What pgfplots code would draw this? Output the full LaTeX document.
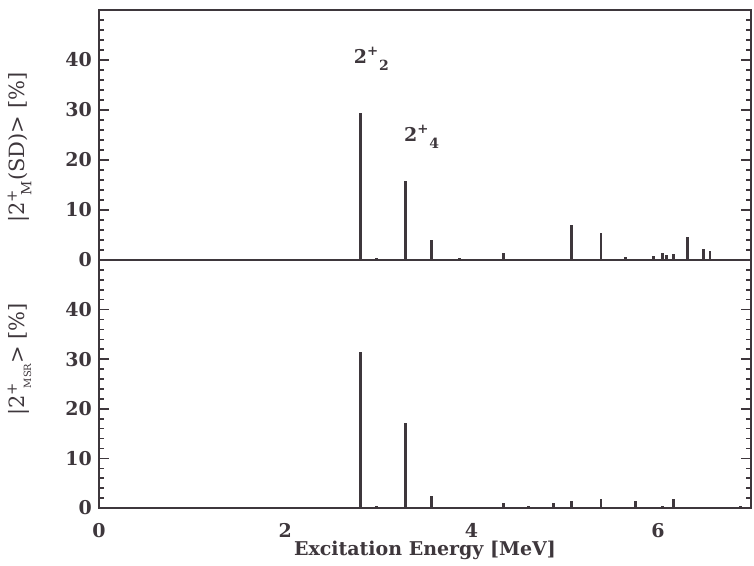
\documentclass[border=0pt]{standalone}
\usepackage{fontspec}
\setmainfont{DejaVu Serif}
\usepackage{pgfplots}
\pgfplotsset{compat=1.18}
\definecolor{ink}{RGB}{62,55,60}

\pgfplotstableread{
x y
2.81 29.4
2.98 0.3
3.29 15.8
3.57 3.9
3.87 0.3
4.34 1.3
5.07 6.9
5.39 5.4
5.65 0.5
5.95 0.8
6.05 1.4
6.09 0.9
6.17 1.2
6.32 4.5
6.49 2.1
6.56 1.8
}\topdata

\pgfplotstableread{
x y
2.81 31.5
2.98 0.4
3.29 17.1
3.57 2.5
4.34 1.0
4.61 0.4
4.88 1.0
5.07 1.4
5.39 1.9
5.76 1.5
6.05 0.4
6.17 1.9
6.49 0.3
6.56 0.3
6.89 0.5
}\botdata

\pgfplotsset{
  panel/.style={
    scale only axis,
    width=326pt,
    xmin=0, xmax=7,
    ymin=0, ymax=50,
    axis line style={ink, line width=1pt},
    every tick/.style={ink, line width=0.8pt},
    ytick={0,10,20,30,40,50},
    yticklabels={0,10,20,30,40,{}},
    minor y tick num=4,
    major tick length=5pt,
    minor tick length=2.5pt,
    ytick pos=both,
    ticklabel style={font=\fontsize{9.5}{10}\selectfont\bfseries, text=ink},
    /pgf/number format/assume math mode=true,
    ylabel style={font=\fontsize{10.5}{12}\selectfont, text=ink, anchor=center, rotate=0},
    clip=false,
  },
  bars/.style={ycomb, no marks, ink, line width=1.3pt},
}

\begin{document}
\begin{tikzpicture}
\useasboundingbox (-49.5pt,-29pt) rectangle (327.5pt,254pt);
% bottom panel
\begin{axis}[panel,
  height=124pt,
  at={(0,0)}, anchor=south west,
  xtick={0,2,4,6},
  xticklabels={0,2,4,6},
  xtick style={draw=none},
  xticklabel style={yshift=-4pt},
  xlabel={Excitation Energy [MeV]},
  xlabel style={font=\fontsize{9.5}{10}\selectfont\bfseries, text=ink, at={(axis description cs:0.5,0)}, anchor=center, yshift=-21pt},
  ylabel={|2\textsuperscript{+}\kern-0.3em\raisebox{-0.6ex}{\tiny MSR}> [\%]},
  ylabel style={at={(axis description cs:-0.122,0.6)}, rotate=0},
]
\addplot[bars] table[x=x,y=y] {\botdata};
\end{axis}
% top panel
\begin{axis}[panel,
  height=125pt,
  at={(0,124pt)}, anchor=south west,
  xtick=\empty,
  ylabel={|2\textsuperscript{+}\kern-0.3em\raisebox{-0.6ex}{\scriptsize M}(SD)> [\%]},
  ylabel style={at={(axis description cs:-0.122,0.45)}},
]
\addplot[bars] table[x=x,y=y] {\topdata};
\node[anchor=west, text=ink, font=\fontsize{9.5}{10}\selectfont\bfseries] at (axis cs:2.66,40.2)
  {2\textsuperscript{+}\raisebox{-0.7ex}{\scriptsize 2}};
\node[anchor=west, text=ink, font=\fontsize{9.5}{10}\selectfont\bfseries] at (axis cs:3.20,24.6)
  {2\textsuperscript{+}\raisebox{-0.7ex}{\scriptsize 4}};
\end{axis}
\end{tikzpicture}
\end{document}
